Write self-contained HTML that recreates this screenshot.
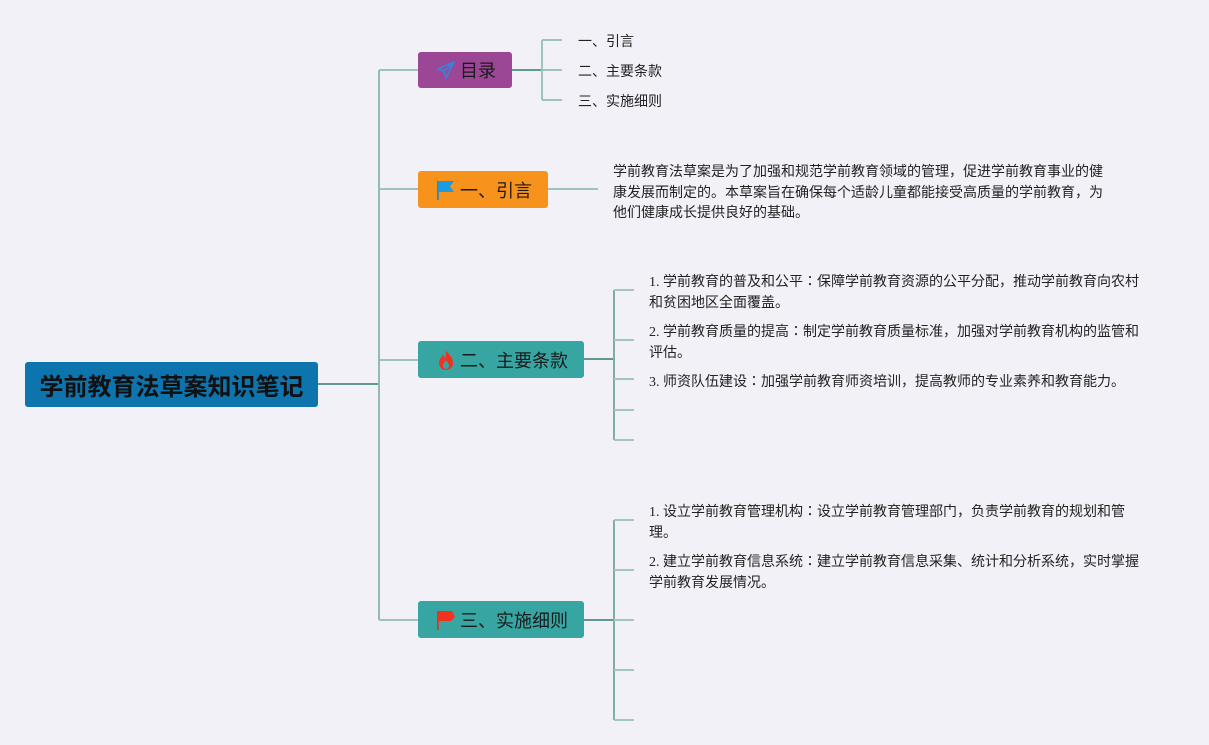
<!DOCTYPE html>
<html><head><meta charset="utf-8">
<style>
html,body{margin:0;padding:0;}
body{width:1209px;height:745px;background:#f2f1f8;position:relative;overflow:hidden;font-family:"Liberation Sans","Noto Sans CJK SC",sans-serif;}
.abs{position:absolute;}
.node{position:absolute;border-radius:3px;display:flex;align-items:center;color:#1a1a1a;font-size:18px;white-space:nowrap;box-sizing:border-box;}
.txt{position:absolute;font-size:14px;color:#222;line-height:20.5px;white-space:nowrap;}
.item{font-family:"Liberation Serif","Noto Sans CJK JP",serif;line-height:21px;}
</style></head><body>
<svg class="abs" style="left:0;top:0" width="1209" height="745">
<g fill="none" stroke-width="2">
<path d="M318 384 H379" stroke="#5e9a93"/>
<path d="M379 70 V620" stroke="#92bbb6"/>
<path d="M379 70 H418 M379 189 H418 M379 360 H418 M379 620 H418" stroke="#9ec3be"/>
<path d="M512 70 H542" stroke="#5e9a93"/>
<path d="M542 40 V100 M542 40 H562 M542 70 H562 M542 100 H562" stroke="#9ec3be"/>
<path d="M548 189 H598" stroke="#9ec3be"/>
<path d="M584 359 H614" stroke="#5e9a93"/>
<path d="M614 290 V440" stroke="#7fada7"/>
<path d="M614 290 H634 M614 340 H634 M614 379 H634 M614 410 H634 M614 440 H634" stroke="#a4c6c2"/>
<path d="M584 620 H614" stroke="#5e9a93"/>
<path d="M614 520 V720" stroke="#7fada7"/>
<path d="M614 520 H634 M614 570 H634 M614 620 H634 M614 670 H634 M614 720 H634" stroke="#a4c6c2"/>
</g>
</svg>

<div class="node" style="left:25px;top:362px;width:293px;height:45px;background:#0d74ae;justify-content:center;font-size:24px;font-weight:bold;color:#111;">学前教育法草案知识笔记</div>

<div class="node" style="left:418px;top:52px;width:94px;height:36px;background:#9b4796;padding-left:18px;">
<svg width="20" height="20" viewBox="0 0 20 20" style="margin-right:4px"><path d="M18 2 L2 9 L8 11 L10 18 Z M18 2 L8 11" fill="none" stroke="#3b7fd6" stroke-width="1.8" stroke-linejoin="round"/></svg>目录</div>

<div class="node" style="left:418px;top:171px;width:130px;height:37px;background:#f7931c;padding-left:18px;">
<svg width="20" height="22" viewBox="0 0 20 22" style="margin-right:4px"><rect x="1" y="2" width="1.8" height="19" fill="#1b8bd6"/><path d="M2 2 H18 L14 7.5 L18 13 H2 Z" fill="#1b9be0"/></svg>一、引言</div>

<div class="node" style="left:418px;top:341px;width:166px;height:37px;background:#37a6a2;padding-left:18px;">
<svg width="20" height="22" viewBox="0 0 20 22" style="margin-right:4px"><path d="M10 1 C12 5 17 8 17 14 C17 18 14 21 10 21 C6 21 3 18 3 14 C3 10 6 8 7 5 C8 8 9 9 9 10 C10 7 10 4 10 1 Z M10 20 C12 20 13 18 13 16 C13 14 11 13 10 11 C9 13 7 14 7 16 C7 18 8 20 10 20 Z" fill="#f0321e" fill-rule="evenodd"/></svg>二、主要条款</div>

<div class="node" style="left:418px;top:601px;width:166px;height:37px;background:#37a6a2;padding-left:18px;">
<svg width="20" height="22" viewBox="0 0 20 22" style="margin-right:4px"><rect x="1" y="2" width="1.8" height="19" fill="#e8321e"/><path d="M2 2 H16 L19 8 L15 12 H2 Z" fill="#f0321e"/></svg>三、实施细则</div>

<div class="txt" style="left:578px;top:31px;">一、引言</div>
<div class="txt" style="left:578px;top:61px;">二、主要条款</div>
<div class="txt" style="left:578px;top:91px;">三、实施细则</div>

<div class="txt" style="left:613px;top:161px;">学前教育法草案是为了加强和规范学前教育领域的管理，促进学前教育事业的健<br>康发展而制定的。本草案旨在确保每个适龄儿童都能接受高质量的学前教育，为<br>他们健康成长提供良好的基础。</div>

<div class="txt item" style="left:649px;top:272px;">1. 学前教育的普及和公平：保障学前教育资源的公平分配，推动学前教育向农村<br>和贫困地区全面覆盖。</div>
<div class="txt item" style="left:649px;top:322px;">2. 学前教育质量的提高：制定学前教育质量标准，加强对学前教育机构的监管和<br>评估。</div>
<div class="txt item" style="left:649px;top:372px;">3. 师资队伍建设：加强学前教育师资培训，提高教师的专业素养和教育能力。</div>

<div class="txt item" style="left:649px;top:502px;">1. 设立学前教育管理机构：设立学前教育管理部门，负责学前教育的规划和管<br>理。</div>
<div class="txt item" style="left:649px;top:552px;">2. 建立学前教育信息系统：建立学前教育信息采集、统计和分析系统，实时掌握<br>学前教育发展情况。</div>
</body></html>
